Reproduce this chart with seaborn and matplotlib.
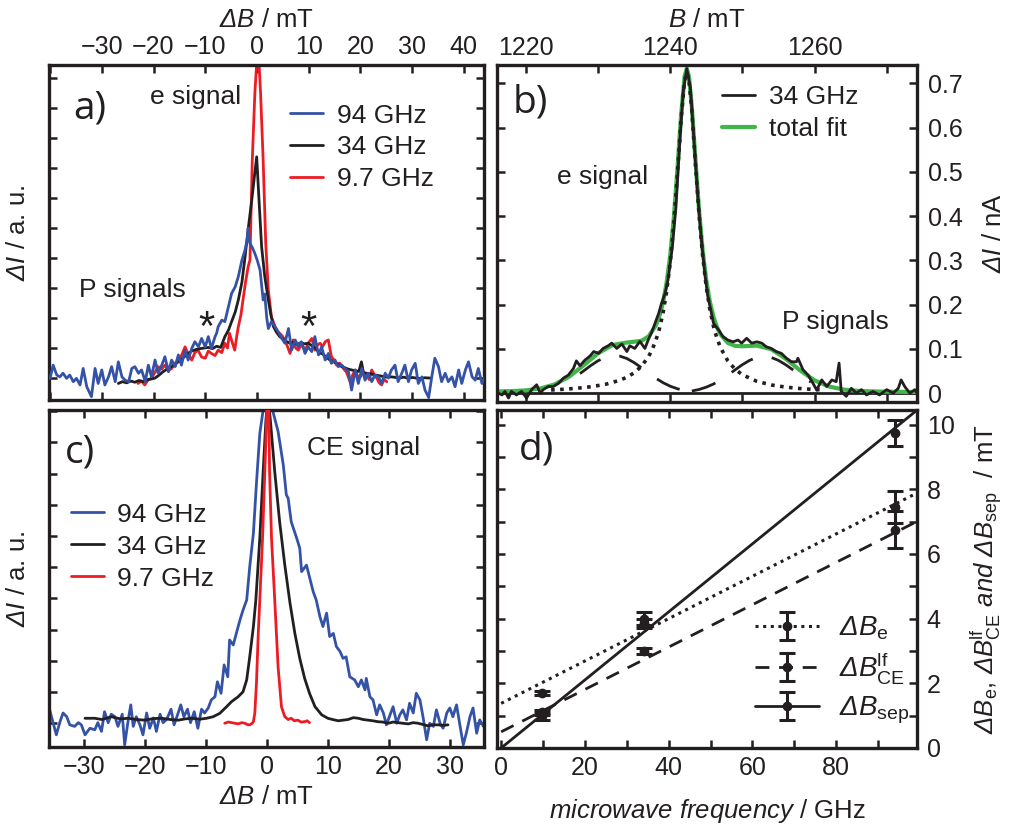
import matplotlib
matplotlib.use("Agg")
import matplotlib.pyplot as plt
import seaborn as sns
from matplotlib.ticker import MultipleLocator, FuncFormatter, NullFormatter
from matplotlib.legend_handler import HandlerTuple

# ---------------------------------------------------------------- data
# panel a: e signal (dB / mT, dI / a.u.)
a_blue = [(-40.0,-0.01),(-39.4,0.43),(-38.7,0.10),(-38.1,0.04),(-37.5,0.16),(-36.8,-0.01),(-36.2,0.10),
          (-35.5,-0.12),(-34.9,-0.01),(-34.2,-0.23),(-33.6,0.32),(-32.9,-0.29),(-32.0,-0.62),(-31.3,0.32),
          (-30.7,-0.18),(-30.0,0.27),(-29.4,-0.23),(-28.7,0.04),(-28.1,0.38),(-27.4,-0.12),(-26.8,0.54),
          (-26.1,0.04),(-25.5,-0.07),(-24.8,-0.12),(-24.2,0.32),(-23.6,0.38),(-22.9,0.16),(-22.3,0.27),
          (-21.6,-0.12),(-21.0,0.43),(-20.4,0.04),(-19.7,0.60),(-19.1,0.16),(-18.4,0.43),(-17.8,0.71),
          (-17.1,0.21),(-16.5,0.60),(-15.8,0.38),(-15.2,0.77),(-14.6,0.43),(-13.9,0.93),(-13.3,0.60),
          (-12.6,0.99),(-12.0,1.21),(-11.3,1.04),(-10.7,1.32),(-10.0,1.04),(-9.4,1.38),(-8.8,0.99),
          (-8.1,1.38),(-7.8,1.49),(-7.5,1.71),(-6.8,1.93),(-6.2,1.88),(-5.5,2.38),(-4.9,2.82),(-4.2,3.04),
          (-3.6,3.38),(-2.9,3.93),(-2.3,4.27),(-1.9,4.60),(-1.7,5.00),(-1.4,4.50),(-0.9,4.35),(-0.4,4.15),
          (0.1,3.90),(0.6,3.60),(1.2,2.60),(1.5,2.80),(1.9,2.00),(2.2,1.65),(2.8,1.88),(3.5,1.71),(4.1,1.54),
          (4.8,1.32),(5.4,1.16),(6.1,1.65),(6.7,0.93),(7.4,1.27),(8.0,1.04),(8.6,1.21),(9.3,0.82),(9.9,1.04),
          (10.6,0.88),(11.2,1.38),(11.9,0.77),(12.5,1.04),(13.2,0.60),(13.8,0.82),(14.4,0.49),(15.1,0.60),
          (15.7,0.38),(16.4,0.43),(17.0,0.32),(17.7,0.21),(18.3,-0.40),(19.0,0.27),(19.6,-0.18),(20.3,0.32),
          (20.9,-0.07),(21.5,0.16),(22.2,-0.12),(22.8,0.10),(23.5,0.04),(24.1,-0.18),(24.8,0.16),(25.4,0.00),
          (26.0,0.27),(26.7,0.43),(27.3,-0.12),(28.0,0.16),(28.6,0.43),(29.3,-0.12),(29.9,0.27),(30.6,0.49),
          (31.2,-0.18),(31.9,0.04),(32.5,-0.40),(33.2,-0.65),(33.8,0.04),(34.4,0.66),(35.1,0.38),(35.7,-0.12),
          (36.4,0.16),(37.0,-0.12),(37.7,0.04),(38.3,-0.29),(39.0,0.27),(39.6,-0.18),(40.3,0.27),(40.9,0.54),
          (41.6,0.04),(42.2,-0.07),(42.8,0.32),(43.5,-0.18),(44.1,0.04)]
a_black = [(-26.8,-0.18),(-26.0,-0.12),(-25.2,-0.16),(-24.4,-0.10),(-23.6,-0.14),(-22.8,-0.08),(-22.0,-0.12),
           (-21.2,-0.06),(-20.4,-0.03),(-19.7,0.00),(-18.9,0.10),(-18.1,0.22),(-17.3,0.30),(-16.5,0.38),
           (-15.7,0.48),(-14.9,0.58),(-14.1,0.70),(-13.3,0.82),(-12.6,0.90),(-11.8,0.95),(-11.0,0.98),
           (-10.2,1.00),(-9.4,1.02),(-8.6,0.98),(-7.8,1.06),(-7.0,1.02),(-6.2,1.38),(-5.5,1.60),(-4.9,1.88),
           (-4.2,2.20),(-3.6,2.60),(-2.9,3.20),(-2.3,4.04),(-1.6,5.10),(-1.0,5.93),(-0.5,6.70),(-0.05,7.37),
           (0.4,5.93),(0.9,4.38),(1.5,3.40),(2.2,2.60),(2.7,2.10),(3.2,1.71),(3.8,1.52),(4.4,1.38),(5.0,1.30),
           (5.7,1.22),(6.4,1.16),(7.1,1.20),(7.8,1.12),(8.5,1.18),(9.2,1.14),(9.9,1.16),(10.6,1.08),(11.3,1.00),
           (12.0,0.85),(12.7,0.80),(13.4,0.70),(14.1,0.60),(14.8,0.55),(15.5,0.48),(16.2,0.40),(16.9,0.35),
           (17.6,0.30),(18.3,0.27),(19.0,0.24),(19.7,0.22),(20.2,0.54),(20.6,0.18),(21.2,0.16),(22.0,0.14),
           (22.8,0.10),(23.6,0.08),(24.4,0.05),(25.2,0.03),(26.0,0.04),(26.8,0.02),(27.6,0.00),(28.4,0.03),
           (29.2,-0.01),(30.0,0.02),(30.8,0.00),(31.6,-0.02),(32.4,0.01),(33.5,0.00)]
a_red = [(-23.0,-0.18),(-22.3,-0.10),(-21.7,-0.23),(-21.0,-0.05),(-20.4,-0.01),(-19.7,0.20),(-19.1,0.38),
         (-18.4,0.30),(-17.8,0.43),(-17.1,0.25),(-16.5,0.32),(-15.8,0.50),(-15.2,0.60),(-14.6,0.75),
         (-13.9,1.04),(-13.3,0.80),(-12.6,0.60),(-12.0,0.85),(-11.4,0.93),(-10.7,0.70),(-10.0,0.66),
         (-9.4,0.90),(-8.8,0.82),(-8.1,0.75),(-7.5,0.93),(-6.8,0.85),(-6.2,1.16),(-5.7,1.00),(-5.3,1.49),
         (-4.8,1.20),(-4.3,0.93),(-3.9,1.40),(-3.6,1.71),(-3.1,2.10),(-2.7,2.60),(-2.2,3.20),(-1.7,3.71),
         (-1.35,3.93),(-0.9,7.27),(-0.4,9.50),(0.2,11.20),(0.7,9.50),(1.2,7.27),(1.7,4.49),(2.2,2.93),
         (2.8,2.04),(3.5,1.71),(4.0,1.55),(4.4,1.49),(4.9,1.40),(5.4,1.27),(5.9,1.05),(6.4,0.82),(7.0,1.27),
         (7.5,1.00),(8.0,0.93),(8.5,1.10),(8.9,1.04),(9.4,0.95),(9.9,1.16),(10.6,1.32),(11.2,0.93),(11.7,1.10),
         (12.2,1.16),(12.7,1.05),(13.2,1.21),(13.8,1.27),(14.4,0.71),(14.9,0.60),(15.4,0.43),(16.0,0.50),
         (16.7,0.32),(17.3,0.20),(18.0,-0.12),(18.5,0.10),(19.0,0.27),(19.5,0.05),(20.0,0.04),(20.6,0.20),
         (21.2,0.10),(21.7,-0.05),(22.2,0.27),(22.7,0.10),(23.2,-0.01),(23.6,-0.15),(24.1,-0.23),(24.6,-0.05),
         (25.1,-0.12)]
a_star_x = [-9.7, 9.9]
a_star_y = [1.65, 1.65]

# panel b: 34 GHz spectrum (B / mT, dI / nA) and fit components
b_data = [(1216.2,0.000),(1216.7,-0.004),(1217.1,0.004),(1217.6,-0.011),(1218.0,0.004),(1218.7,-0.004),
          (1219.4,0.004),(1220.1,-0.011),(1220.8,0.008),(1221.5,0.019),(1222.0,0.000),(1222.4,0.008),
          (1223.1,0.015),(1223.8,0.015),(1224.5,0.022),(1225.2,0.034),(1225.9,0.041),(1226.6,0.056),
          (1227.0,0.073),(1227.5,0.062),(1228.2,0.075),(1228.9,0.084),(1229.4,0.094),(1230.1,0.090),
          (1230.7,0.101),(1231.4,0.107),(1231.9,0.113),(1232.6,0.101),(1233.3,0.111),(1234.0,0.094),
          (1234.4,0.107),(1235.1,0.101),(1235.8,0.117),(1236.5,0.101),(1237.0,0.122),(1237.4,0.136),
          (1237.9,0.158),(1238.4,0.180),(1238.8,0.203),(1239.3,0.226),(1239.7,0.256),(1240.3,0.330),
          (1240.8,0.420),(1241.3,0.560),(1241.8,0.680),(1242.3,0.733),(1242.8,0.690),(1243.3,0.570),
          (1243.8,0.450),(1244.3,0.350),(1244.8,0.270),(1245.2,0.220),(1245.6,0.190),(1246.0,0.158),
          (1246.7,0.143),(1247.3,0.128),(1248.0,0.120),(1248.7,0.116),(1249.4,0.120),(1249.9,0.113),
          (1250.6,0.124),(1251.3,0.113),(1252.0,0.116),(1252.7,0.113),(1253.3,0.105),(1254.0,0.101),
          (1254.7,0.094),(1255.4,0.090),(1256.1,0.079),(1256.8,0.071),(1257.5,0.071),(1257.7,0.079),
          (1258.4,0.053),(1259.1,0.041),(1259.8,0.022),(1260.3,0.007),(1261.0,0.030),(1261.7,0.015),
          (1262.4,0.030),(1263.0,0.026),(1263.4,0.068),(1263.7,0.004),(1264.4,-0.007),(1265.1,0.011),
          (1265.8,0.000),(1266.5,0.008),(1267.2,-0.004),(1268.1,0.004),(1269.0,-0.004),(1270.0,0.008),
          (1270.9,0.000),(1271.6,0.011),(1272.0,0.030),(1272.5,0.015),(1273.2,0.000),(1273.9,0.008),
          (1274.2,0.000)]
b_total_fit = [(1216,0.0038),(1218,0.0047),(1220,0.0064),(1222,0.0105),(1224,0.0198),(1226,0.0373),
               (1228,0.0629),(1230,0.0901),(1232,0.1087),(1234,0.1144),(1236,0.1181),(1237,0.1281),
               (1238,0.1525),(1238.5,0.1736),(1239,0.2040),(1239.5,0.2490),(1240,0.3105),(1240.5,0.3957),
               (1241,0.5054),(1241.5,0.6257),(1242,0.7156),(1242.3,0.7333),(1242.6,0.7151),(1243,0.6466),
               (1243.5,0.5271),(1244,0.4132),(1244.5,0.3220),(1245,0.2545),(1245.5,0.2065),(1246,0.1721),
               (1246.5,0.1483),(1247,0.1320),(1248,0.1134),(1249,0.1069),(1250,0.1059),(1252,0.1075),
               (1254,0.0993),(1256,0.0780),(1258,0.0514),(1260,0.0290),(1262,0.0151),(1264,0.0082),
               (1266,0.0053),(1268,0.0040),(1270,0.0034),(1272,0.0030),(1274.2,0.0026)]
b_e_fit = [(1223.5,0.0073),(1225,0.0086),(1227,0.0110),(1229,0.0145),(1231,0.0199),(1233,0.0290),
           (1234,0.0361),(1235,0.0459),(1236,0.0604),(1237,0.0826),(1237.5,0.0982),(1238,0.1185),
           (1238.5,0.1450),(1239,0.1800),(1239.5,0.2290),(1240,0.2940),(1240.5,0.3820),(1241,0.4940),
           (1241.5,0.6160),(1242,0.7070),(1242.3,0.7250),(1242.6,0.7070),(1243,0.6380),(1243.5,0.5180),
           (1244,0.4030),(1244.5,0.3100),(1245,0.2400),(1245.5,0.1890),(1246,0.1510),(1246.5,0.1230),
           (1247,0.1020),(1248,0.0725),(1249,0.0541),(1250,0.0416),(1252,0.0268),(1254,0.0186),
           (1256,0.0137),(1258,0.0105),(1260,0.0083),(1261,0.0074)]
b_p_fit_low = [(1227.5,0.0442),(1228,0.0503),(1229,0.0624),(1230,0.0732),(1231,0.0810),(1232,0.0848),
               (1233,0.0838),(1234,0.0783),(1235,0.0691),(1236,0.0577),(1237,0.0455),(1238,0.0339),
               (1239,0.0238),(1240,0.0158),(1241,0.0100),(1242,0.0059),(1242.5,0.0045)]
b_p_fit_high = [(1243,0.0049),(1244,0.0084),(1245,0.0136),(1246,0.0207),(1247,0.0300),(1248,0.0409),
                (1249,0.0528),(1250,0.0643),(1251,0.0741),(1252,0.0807),(1253,0.0830),(1254,0.0807),
                (1255,0.0741),(1256,0.0643),(1257,0.0528),(1258,0.0409),(1259,0.0300),(1259.5,0.0251)]

# panel c: CE signal
c_blue = [(-35.8,0.59),(-35.3,0.21),(-34.5,-0.37),(-33.9,0.05),(-33.4,0.33),(-32.8,0.21),(-32.3,-0.05),
          (-31.5,-0.10),(-30.9,0.02),(-30.4,-0.05),(-29.8,-0.37),(-29.0,-0.16),(-28.2,-0.21),(-27.7,0.02),
          (-27.1,-0.26),(-26.6,0.37),(-26.0,0.02),(-25.5,0.29),(-24.9,0.21),(-24.4,-0.10),(-23.7,0.29),
          (-23.3,-0.69),(-22.7,0.13),(-22.3,0.59),(-21.9,-0.10),(-21.4,0.21),(-20.8,-0.05),(-20.3,-0.37),
          (-19.7,0.33),(-19.2,-0.16),(-18.6,0.17),(-18.1,-0.26),(-17.5,0.29),(-17.0,0.02),(-16.4,0.13),
          (-15.7,0.45),(-15.2,-0.05),(-14.6,0.29),(-14.1,0.59),(-13.6,0.21),(-13.0,0.45),(-12.5,0.02),
          (-11.9,0.37),(-11.3,-0.16),(-10.7,0.45),(-10.2,0.33),(-9.6,0.49),(-9.1,0.75),(-8.5,0.85),
          (-8.1,1.33),(-7.5,0.96),(-7.0,1.87),(-6.4,1.49),(-6.1,2.67),(-5.5,2.51),(-5.0,2.88),(-4.4,3.31),
          (-3.9,3.63),(-3.3,3.95),(-2.8,5.02),(-2.2,6.09),(-1.7,7.69),(-1.15,9.29),(-0.6,10.04),(0.2,10.60),
          (1.0,9.99),(1.85,9.35),(2.7,8.28),(3.2,7.32),(3.5,7.21),(4.0,6.46),(4.9,5.93),(5.4,5.61),(5.7,4.86),
          (6.5,5.07),(7.6,4.22),(8.1,3.95),(8.7,3.42),(9.2,3.10),(9.8,3.53),(10.3,2.78),(10.9,2.88),
          (11.4,2.46),(12.0,2.30),(12.5,2.08),(13.0,2.13),(13.6,1.49),(14.4,1.39),(15.0,1.17),(15.5,1.39),
          (16.1,1.07),(16.3,1.44),(16.9,0.85),(17.4,0.75),(18.0,0.27),(18.5,0.59),(19.1,0.33),(19.6,-0.05),
          (20.2,0.27),(20.7,0.53),(21.3,0.00),(21.8,0.27),(22.3,0.43),(22.9,0.11),(23.4,0.64),(24.0,0.33),
          (24.5,0.96),(25.1,0.75),(25.6,0.21),(26.2,-0.53),(26.7,0.00),(27.3,-0.10),(27.8,0.43),(28.4,0.00),
          (28.9,-0.16),(29.5,0.33),(30.0,0.49),(30.5,0.21),(31.1,0.59),(31.6,0.00),(32.2,-0.69),(32.7,-0.32),
          (33.3,0.21),(33.8,0.49),(34.4,-0.32),(34.9,0.11),(35.5,-0.10)]
c_black = [(-29.8,0.16),(-28.2,0.16),(-27.0,0.12),(-25.5,0.21),(-24.0,0.14),(-22.7,0.16),(-21.3,0.12),
           (-20.0,0.10),(-18.6,0.15),(-17.2,0.16),(-15.8,0.12),(-14.5,0.10),(-13.4,0.14),(-12.3,0.16),
           (-11.0,0.13),(-9.9,0.16),(-8.8,0.21),(-7.7,0.32),(-6.6,0.53),(-5.8,0.69),(-4.7,0.85),(-3.9,1.01),
           (-3.3,1.39),(-2.8,2.13),(-2.2,3.10),(-1.8,3.95),(-1.15,5.93),(-0.6,8.06),(-0.16,9.67),(0.2,10.50),
           (0.6,9.67),(1.3,8.06),(2.1,6.46),(2.95,5.07),(3.8,3.85),(4.6,2.88),(5.4,2.08),(6.2,1.44),(7.0,0.96),
           (7.9,0.53),(9.0,0.27),(10.0,0.16),(10.8,0.12),(11.7,0.08),(12.5,0.10),(13.3,0.12),(14.2,0.18),
           (15.0,0.16),(15.8,0.12),(16.6,0.10),(17.4,0.08),(18.2,0.05),(19.0,0.04),(19.9,0.00),(20.7,0.04),
           (21.5,0.02),(22.3,0.00),(23.2,-0.02),(24.0,0.02),(24.8,0.00),(25.6,-0.04),(26.4,-0.08),(27.2,-0.05),
           (28.1,-0.05),(28.9,-0.07),(29.7,-0.05)]
c_red = [(-6.9,0.00),(-6.3,0.04),(-5.8,0.02),(-5.2,0.00),(-4.7,-0.02),(-4.1,0.02),(-3.6,0.00),(-3.2,-0.04),
         (-2.8,-0.05),(-2.4,0.00),(-2.2,0.05),(-1.97,0.32),(-1.7,1.28),(-1.4,2.88),(-1.15,3.95),(-0.7,5.93),
         (-0.33,8.06),(-0.05,9.67),(0.1,10.60),(0.3,10.60),(0.45,8.06),(0.77,5.93),(1.3,3.95),(1.85,1.80),
         (2.4,0.53),(2.95,0.21),(3.5,0.12),(4.0,0.16),(4.5,0.08),(5.1,0.10),(5.6,0.04),(6.2,0.05),(6.6,0.08),
         (7.0,0.02)]

spectra_labels = ["94 GHz", "34 GHz", "9.7 GHz"]

# panel d: line widths vs microwave frequency
freq = [9.7, 34.0, 94.0]
dB_e = [1.70, 3.85, 7.45]
dB_e_err = [0.06, 0.15, 0.50]
dB_ce = [1.10, 3.00, 6.75]
dB_ce_err = [0.08, 0.08, 0.58]
dB_sep = [0.98, 4.00, 9.75]
dB_sep_err = [0.10, 0.20, 0.40]
fit_freq = [0.0, 100.0]
fit_e = [1.38, 7.93]
fit_ce = [0.50, 7.05]
fit_sep = [0.00, 10.52]

# ---------------------------------------------------------------- style
sns.set_theme(style="ticks")
INK = "#231f20"
BLUE = "#3453a6"
RED = "#ed1c24"
GREEN = "#40b549"
plt.rcParams.update({
    "font.family": ["Liberation Sans", "DejaVu Sans"],
    "mathtext.fontset": "custom",
    "mathtext.rm": "Liberation Sans",
    "mathtext.it": "Liberation Sans:italic",
    "mathtext.sf": "Liberation Sans:italic",
    "mathtext.bf": "Liberation Sans:bold",
    "axes.linewidth": 2.4,
    "axes.edgecolor": INK,
    "text.color": INK,
    "axes.labelcolor": INK,
    "xtick.color": INK, "ytick.color": INK,
    "xtick.labelcolor": INK, "ytick.labelcolor": INK,
    "axes.facecolor": "white",
    "figure.facecolor": "white",
    "legend.numpoints": 1,
})

TICK = 18
LAB = 18.5
ANN = 19
PANEL = dict(fontsize=28, family=["Open Sans", "DejaVu Sans"])


def xy(pairs):
    return [p[0] for p in pairs], [p[1] for p in pairs]


def curve(ax, pairs, color, lw=2.0, ls="-", z=2):
    x, y = xy(pairs)
    sns.lineplot(x=x, y=y, ax=ax, color=color, lw=lw, linestyle=ls,
                 estimator=None, sort=False, legend=False, zorder=z)
    return ax.lines[-1]


def frame(ax):
    ax.tick_params(which="both", direction="in", top=True, bottom=True,
                   left=True, right=True, length=5.5, width=1.8,
                   labelsize=TICK)
    for s in ax.spines.values():
        s.set_linewidth(2.4)
        s.set_color(INK)


def num(v, skip=None):
    if skip is not None and skip(v):
        return ""
    return f"{v:.0f}".replace("-", "\u2212")


fig = plt.figure(figsize=(10.3, 8.31), dpi=100)
axa = fig.add_axes([0.0476, 0.5187, 0.4223, 0.4031])
axb = fig.add_axes([0.4825, 0.5162, 0.4078, 0.4055])
axc = fig.add_axes([0.0476, 0.1011, 0.4223, 0.4055])
axd = fig.add_axes([0.4825, 0.0999, 0.4078, 0.4067])

# ---------------------------------------------------------------- panel a
lr = curve(axa, a_red, RED, 2.0, z=2)
lk = curve(axa, a_black, INK, 2.0, z=3)
lb = curve(axa, a_blue, BLUE, 2.0, z=4)
axa.set_xlim(-40.2, 43.9)
axa.set_ylim(-0.73, 10.43)
axa.xaxis.set_major_locator(MultipleLocator(10))
axa.xaxis.set_major_formatter(FuncFormatter(lambda v, p: num(v, lambda u: u < -35)))
axa.yaxis.set_major_locator(MultipleLocator(1))
axa.yaxis.set_major_formatter(NullFormatter())
frame(axa)
axa.tick_params(axis="x", labeltop=True, labelbottom=False, pad=4)
axa.xaxis.set_label_position("top")
axa.set_ylabel(r"$\mathsf{ΔI}$ / a. u.", fontsize=LAB, labelpad=10)
axa.set_xlabel(r"$\mathsf{ΔB}$ / mT", fontsize=LAB, labelpad=6)
for sx, sy in zip(a_star_x, a_star_y):
    axa.text(sx, sy, "*", fontsize=30, ha="center", va="center")
axa.text(0.094, 0.87, "a)", transform=axa.transAxes, ha="center", va="center", **PANEL)
axa.text(0.336, 0.905, "e signal", transform=axa.transAxes, ha="center", va="center", fontsize=ANN)
axa.text(0.191, 0.328, "P signals", transform=axa.transAxes, ha="center", va="center", fontsize=ANN)
axa.legend([lb, lk, lr], spectra_labels, loc="upper left", bbox_to_anchor=(0.555, 0.885),
           frameon=False, fontsize=ANN, handlelength=1.25, handletextpad=0.5,
           labelspacing=0.3, borderpad=0, borderaxespad=0)

# ---------------------------------------------------------------- panel b
axb.axhline(0, color=INK, lw=2.0, zorder=1)
lg = curve(axb, b_total_fit, GREEN, 3.0, z=2)
curve(axb, b_e_fit, INK, 2.6, ls=(0, (1.0, 1.5)), z=3)
curve(axb, b_p_fit_low, INK, 2.0, ls=(0, (9, 7)), z=3)
curve(axb, b_p_fit_high, INK, 2.0, ls=(0, (9, 7)), z=3)
ld = curve(axb, b_data, INK, 2.0, z=4)
axb.set_xlim(1216.0, 1274.2)
axb.set_ylim(-0.02, 0.741)
axb.xaxis.set_major_locator(MultipleLocator(10))
axb.xaxis.set_major_formatter(FuncFormatter(lambda v, p: num(v, lambda u: round(u) % 20 != 0)))
axb.yaxis.set_major_locator(MultipleLocator(0.1))
axb.yaxis.set_major_formatter(FuncFormatter(lambda v, p: "0" if abs(v) < 1e-9 else f"{v:.1f}"))
frame(axb)
axb.tick_params(axis="x", labeltop=True, labelbottom=False, pad=4)
axb.tick_params(axis="y", labelleft=False, labelright=True, pad=8)
axb.xaxis.set_label_position("top")
axb.yaxis.set_label_position("right")
axb.set_xlabel(r"$\mathsf{B}$ / mT", fontsize=LAB, labelpad=6)
axb.set_ylabel(r"$\mathsf{ΔI}$ / nA", fontsize=LAB, labelpad=14)
axb.text(0.079, 0.89, "b)", transform=axb.transAxes, ha="center", va="center", **PANEL)
axb.text(0.252, 0.668, "e signal", transform=axb.transAxes, ha="center", va="center", fontsize=ANN)
axb.text(0.805, 0.237, "P signals", transform=axb.transAxes, ha="center", va="center", fontsize=ANN)
axb.legend([ld, lg], ["34 GHz", "total fit"], loc="upper left", bbox_to_anchor=(0.535, 0.94),
           frameon=False, fontsize=ANN, handlelength=1.25, handletextpad=0.55,
           labelspacing=0.3, borderpad=0, borderaxespad=0)

# ---------------------------------------------------------------- panel c
lcb = curve(axc, c_blue, BLUE, 2.0, z=2)
lck = curve(axc, c_black, INK, 2.0, z=3)
lcr = curve(axc, c_red, RED, 2.0, z=4)
axc.set_xlim(-35.7, 35.6)
axc.set_ylim(-0.76, 10.04)
axc.xaxis.set_major_locator(MultipleLocator(10))
axc.xaxis.set_major_formatter(FuncFormatter(lambda v, p: num(v)))
axc.yaxis.set_major_locator(MultipleLocator(1))
axc.yaxis.set_major_formatter(NullFormatter())
frame(axc)
axc.tick_params(axis="x", pad=6)
axc.set_xlabel(r"$\mathsf{ΔB}$ / mT", fontsize=LAB, labelpad=4)
axc.set_ylabel(r"$\mathsf{ΔI}$ / a. u.", fontsize=LAB, labelpad=10)
axc.text(0.071, 0.875, "c)", transform=axc.transAxes, ha="center", va="center", **PANEL)
axc.text(0.722, 0.887, "CE signal", transform=axc.transAxes, ha="center", va="center", fontsize=ANN)
axc.legend([lcb, lck, lcr], spectra_labels, loc="upper left", bbox_to_anchor=(0.05, 0.725),
           frameon=False, fontsize=ANN, handlelength=1.25, handletextpad=0.5,
           labelspacing=0.3, borderpad=0, borderaxespad=0)

# ---------------------------------------------------------------- panel d
le = curve(axd, list(zip(fit_freq, fit_e)), INK, 2.2, ls=(0, (1.0, 1.5)), z=2)
lce = curve(axd, list(zip(fit_freq, fit_ce)), INK, 2.0, ls=(0, (5, 3.5)), z=2)
lsep = curve(axd, list(zip(fit_freq, fit_sep)), INK, 2.0, z=2)
eb_kw = dict(fmt="o", color=INK, ms=6, capsize=6, elinewidth=2.2, capthick=2.2, ls="none", zorder=4)
ebe = axd.errorbar(freq, dB_e, yerr=dB_e_err, **eb_kw)
ebce = axd.errorbar(freq, dB_ce, yerr=dB_ce_err, **eb_kw)
ebsep = axd.errorbar(freq, dB_sep, yerr=dB_sep_err, **eb_kw)
axd.set_xlim(-1.0, 99.3)
axd.set_ylim(0, 10.45)
axd.xaxis.set_major_locator(MultipleLocator(10))
axd.xaxis.set_major_formatter(FuncFormatter(lambda v, p: num(v, lambda u: round(u) % 20 != 0 or u > 90)))
axd.yaxis.set_major_locator(MultipleLocator(1))
axd.yaxis.set_major_formatter(FuncFormatter(lambda v, p: num(v, lambda u: round(u) % 2 != 0)))
frame(axd)
axd.tick_params(axis="x", pad=6)
axd.tick_params(axis="y", labelleft=False, labelright=True, pad=7)
axd.yaxis.set_label_position("right")
axd.set_xlabel(r"$\mathit{microwave\ frequency}$ / GHz", fontsize=LAB, labelpad=12)
axd.set_ylabel(r"$\mathsf{ΔB}_\mathrm{e}$, $\mathsf{ΔB}^\mathrm{lf}_\mathrm{CE}$ $\mathit{and}$ "
               r"$\mathsf{ΔB}_\mathrm{sep}$  / mT", fontsize=LAB, labelpad=10)
axd.text(0.0945, 0.882, "d)", transform=axd.transAxes, ha="center", va="center", **PANEL)
axd.legend([(le, ebe), (lce, ebce), (lsep, ebsep)],
           [r"$\mathsf{ΔB}_\mathrm{e}$", r"$\mathsf{ΔB}^\mathrm{lf}_\mathrm{CE}$", r"$\mathsf{ΔB}_\mathrm{sep}$"],
           handler_map={tuple: HandlerTuple(ndivide=1)}, numpoints=1,
           loc="upper left", bbox_to_anchor=(0.615, 0.395), frameon=False, fontsize=20,
           handlelength=2.3, handletextpad=0.7, labelspacing=0.3, borderpad=0, borderaxespad=0)

fig.savefig("out.png", dpi=100)
